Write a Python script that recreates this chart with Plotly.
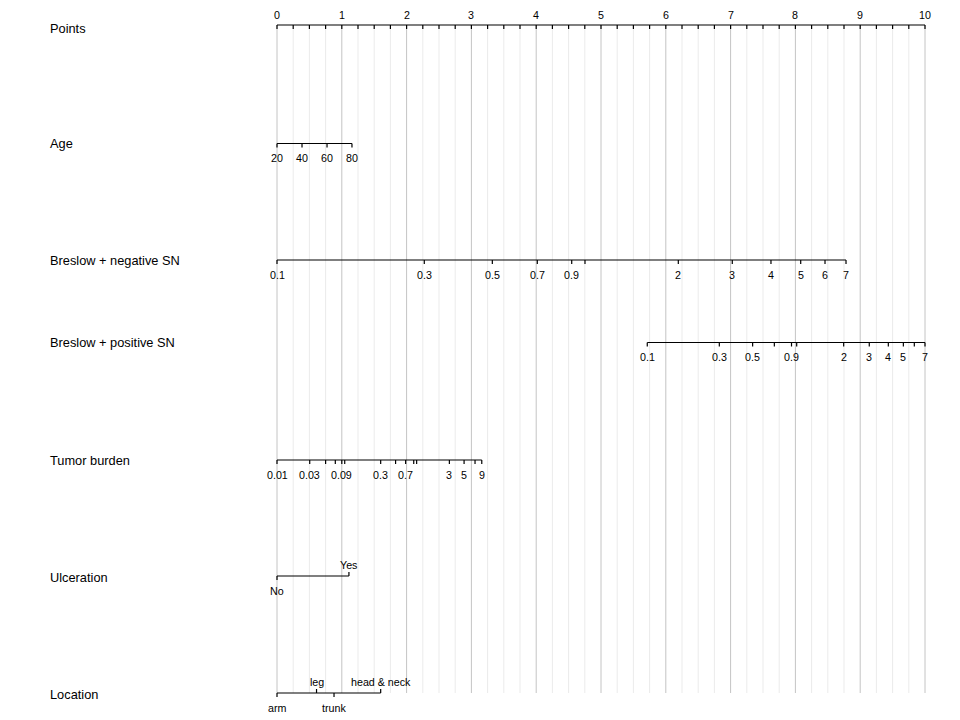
import plotly.graph_objects as go

# ---------------- data ----------------
points_major = [0, 1, 2, 3, 4, 5, 6, 7, 8, 9, 10]
points_minor = [0.25, 0.5, 0.75, 1.25, 1.5, 1.75, 2.25, 2.5, 2.75, 3.25, 3.5, 3.75,
                4.25, 4.5, 4.75, 5.25, 5.5, 5.75, 6.25, 6.5, 6.75, 7.25, 7.5, 7.75,
                8.25, 8.5, 8.75, 9.25, 9.5, 9.75]

age_labels = ["20", "40", "60", "80"]
age_points = [0, 0.386, 0.772, 1.157]

breslow_neg_labels = ["0.1", "0.3", "0.5", "0.7", "0.9", "", "2", "3", "4", "5", "6", "7"]
breslow_neg_points = [0, 2.273, 3.323, 4.017, 4.548, 4.753, 6.193, 7.026, 7.623, 8.082, 8.457, 8.781]

breslow_pos_labels = ["0.1", "0.3", "0.5", "", "0.9", "", "2", "3", "4", "5", "", "7"]
breslow_pos_points = [5.714, 6.826, 7.340, 7.675, 7.940, 8.020, 8.745, 9.140, 9.434, 9.666, 9.835, 10.0]

tumor_labels = ["0.01", "0.03", "", "", "0.09", "", "0.3", "", "0.7", "", "", "3", "5", "", "9"]
tumor_points = [0, 0.505, 0.75, 0.90, 1.0, 1.045, 1.60, 1.83, 1.985, 2.11, 2.155, 2.66, 2.887, 3.056, 3.16]

ulcer_labels = ["No", "Yes"]
ulcer_points = [0, 1.11]

location_labels = ["arm", "leg", "trunk", "head & neck"]
location_points = [0, 0.61, 0.88, 1.60]

row_names = ["Age", "Breslow + negative SN", "Breslow + positive SN",
             "Tumor burden", "Ulceration", "Location"]

# ---------------- layout constants ----------------
W, H = 960, 720
PX0, PX10 = 277, 925            # pixel of 0 and 10 points
ppu = (PX10 - PX0) / 10.0
xr = [-PX0 / ppu, (W - PX0) / ppu]

ROW_Y = {"Points": 25, "Age": 143.5, "Breslow + negative SN": 260,
         "Breslow + positive SN": 342.5, "Tumor burden": 460,
         "Ulceration": 576, "Location": 693}
NAME_Y = {"Points": 28, "Age": 143.5, "Breslow + negative SN": 260,
          "Breslow + positive SN": 342, "Tumor burden": 460,
          "Ulceration": 577, "Location": 694}

FONT = "Liberation Sans, Arial, sans-serif"
TICK_LEN = 4

rows = [
    ("Age", age_labels, age_points, None),
    ("Breslow + negative SN", breslow_neg_labels, breslow_neg_points, None),
    ("Breslow + positive SN", breslow_pos_labels, breslow_pos_points, None),
    ("Tumor burden", tumor_labels, tumor_points, None),
    ("Ulceration", ulcer_labels, ulcer_points, "alt"),
    ("Location", location_labels, location_points, "alt"),
]

fig = go.Figure()
shapes = []
annotations = []

# grid lines
y_top, y_bot = ROW_Y["Points"], ROW_Y["Location"]
for p in points_minor:
    shapes.append(dict(type="line", xref="x", yref="y", x0=p, x1=p, y0=y_top, y1=y_bot,
                       line=dict(color="#ebebeb", width=1), layer="below"))
for p in points_major:
    shapes.append(dict(type="line", xref="x", yref="y", x0=p, x1=p, y0=y_top, y1=y_bot,
                       line=dict(color="#c4c4c4", width=1), layer="below"))

lx, ly = [], []

# Points axis
yp = ROW_Y["Points"]
lx += [points_major[0], points_major[-1], None]
ly += [yp, yp, None]
for p in sorted(points_major + points_minor):
    lx += [p, p, None]
    ly += [yp, yp + TICK_LEN, None]
for p in points_major:
    annotations.append(dict(x=p, y=yp - 10, xref="x", yref="y", text=str(p),
                            showarrow=False, xanchor="center", yanchor="middle",
                            font=dict(family=FONT, size=10.7, color="black")))

# variable axes
for name, labels, pts, mode in rows:
    y = ROW_Y[name]
    lx += [min(pts), max(pts), None]
    ly += [y, y, None]
    for i, (lab, p) in enumerate(zip(labels, pts)):
        above = (mode == "alt" and i % 2 == 1)
        if above:
            lx += [p, p, None]
            ly += [y, y - TICK_LEN, None]
            ty = y - 11.5
        else:
            lx += [p, p, None]
            ly += [y, y + TICK_LEN, None]
            ty = y + 14.5
        if lab:
            annotations.append(dict(x=p, y=ty, xref="x", yref="y", text=lab,
                                    showarrow=False, xanchor="center", yanchor="middle",
                                    font=dict(family=FONT, size=10.7, color="black")))

fig.add_trace(go.Scatter(x=lx, y=ly, mode="lines", line=dict(color="black", width=1.2),
                         hoverinfo="skip", showlegend=False))

# row names
for name in ["Points"] + row_names:
    annotations.append(dict(x=48 / W, y=NAME_Y[name], xref="paper", yref="y", text=name,
                            showarrow=False, xanchor="left", yanchor="middle",
                            font=dict(family=FONT, size=12.8, color="black")))

fig.update_layout(
    width=W, height=H,
    margin=dict(l=0, r=0, t=0, b=0),
    paper_bgcolor="white", plot_bgcolor="white",
    xaxis=dict(range=xr, visible=False, fixedrange=True),
    yaxis=dict(range=[H, 0], visible=False, fixedrange=True),
    shapes=shapes, annotations=annotations, showlegend=False,
)

fig.write_html("out.html")
